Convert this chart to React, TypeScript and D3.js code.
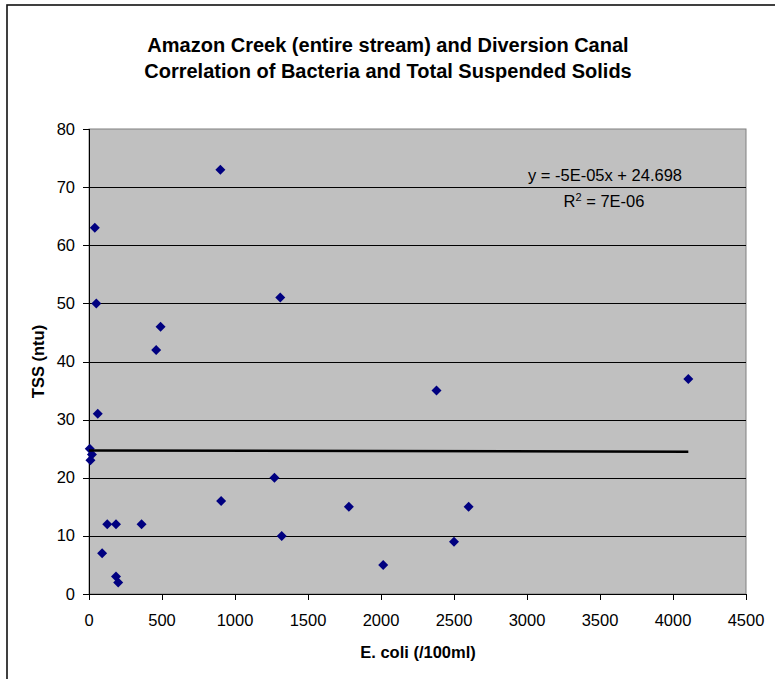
import React from "react";
import * as d3 from "d3";

const titleLines = [
  "Amazon Creek (entire stream) and Diversion Canal",
  "Correlation of Bacteria and Total Suspended Solids",
];
const xTitle = "E. coli (/100ml)";
const yTitle = "TSS (ntu)";

const ecoli = [40, 50, 490, 460, 900, 1310, 60, 5, 20, 10, 125, 185, 360, 90, 185, 200, 905, 1270, 1320, 1780, 2015, 2380, 2500, 2600, 4105];
const tss = [63, 50, 46, 42, 73, 51, 31, 25, 24, 23, 12, 12, 12, 7, 3, 2, 16, 20, 10, 15, 5, 35, 9, 15, 37];

const xTicks = [0, 500, 1000, 1500, 2000, 2500, 3000, 3500, 4000, 4500];
const yTicks = [0, 10, 20, 30, 40, 50, 60, 70, 80];

const trendSlope = -5e-5;
const trendIntercept = 24.698;
const eqText = "y = -5E-05x + 24.698";
const r2Value = "7E-06";

const W = 775;
const H = 679;
const plot = { left: 89, right: 746, top: 129, bottom: 594 };
const font = "'Liberation Sans', Arial, sans-serif";

export default function App() {
  const x = d3.scaleLinear().domain([0, 4500]).range([plot.left, plot.right]);
  const y = d3.scaleLinear().domain([0, 80]).range([plot.bottom, plot.top]);
  const pts = ecoli.map((e, i) => ({ e, t: tss[i] }));
  const xMax = d3.max(ecoli) as number;
  const line = d3.line<number>().x((d) => x(d)).y((d) => y(trendIntercept + trendSlope * d));
  const m = 5;
  const diamond = `M0,${-m}L${m},0L0,${m}L${-m},0Z`;

  return (
    <svg
      width={W}
      height={H}
      style={{ position: "absolute", left: 0, top: 0, background: "#fff" }}
      fontFamily={font}
    >
      <rect x={7} y={5} width={W + 20} height={H + 20} fill="#fff" stroke="#111" strokeWidth={1.6} />
      {titleLines.map((t, i) => (
        <text key={i} x={388} y={52 + i * 26} textAnchor="middle" fontWeight="bold" fontSize={20} fill="#000">
          {t}
        </text>
      ))}
      <rect
        x={plot.left}
        y={plot.top}
        width={plot.right - plot.left}
        height={plot.bottom - plot.top}
        fill="#c0c0c0"
        stroke="#808080"
        strokeWidth={1}
      />
      {yTicks.filter((v) => v > 0 && v < 80).map((v) => (
        <line key={v} x1={plot.left} x2={plot.right} y1={Math.round(y(v)) + 0.5} y2={Math.round(y(v)) + 0.5} stroke="#000" strokeWidth={1} />
      ))}
      <line x1={plot.left + 0.5} x2={plot.left + 0.5} y1={plot.top} y2={plot.bottom} stroke="#000" />
      <line x1={plot.left} x2={plot.right} y1={plot.bottom + 0.5} y2={plot.bottom + 0.5} stroke="#000" />
      {yTicks.map((v) => (
        <g key={v}>
          <line x1={plot.left - 6} x2={plot.left} y1={Math.round(y(v)) + 0.5} y2={Math.round(y(v)) + 0.5} stroke="#000" />
          <text x={plot.left - 14} y={y(v) + 5.5} textAnchor="end" fontSize={16.5} fill="#000">
            {v}
          </text>
        </g>
      ))}
      {xTicks.map((v) => (
        <g key={v}>
          <line x1={Math.round(x(v)) + 0.5} x2={Math.round(x(v)) + 0.5} y1={plot.bottom} y2={plot.bottom + 6} stroke="#000" />
          <text x={x(v)} y={626} textAnchor="middle" fontSize={16.5} fill="#000">
            {v}
          </text>
        </g>
      ))}
      {pts.map((p, i) => (
        <path key={i} d={diamond} transform={`translate(${x(p.e)},${y(p.t)})`} fill="#000080" />
      ))}
      <path d={line([0, xMax]) as string} stroke="#000" strokeWidth={2.5} fill="none" />
      <text x={605} y={181} textAnchor="middle" fontSize={16.5} fill="#000">
        {eqText}
      </text>
      <text x={604} y={207} textAnchor="middle" fontSize={16.5} fill="#000">
        R<tspan dy={-6} fontSize={11}>2</tspan>
        <tspan dy={6}> = {r2Value}</tspan>
      </text>
      <text x={418} y={658} textAnchor="middle" fontWeight="bold" fontSize={16.5} fill="#000">
        {xTitle}
      </text>
      <text
        transform={`translate(44,${(plot.top + plot.bottom) / 2}) rotate(-90)`}
        textAnchor="middle"
        fontWeight="bold"
        fontSize={16.5}
        fill="#000"
      >
        {yTitle}
      </text>
    </svg>
  );
}
